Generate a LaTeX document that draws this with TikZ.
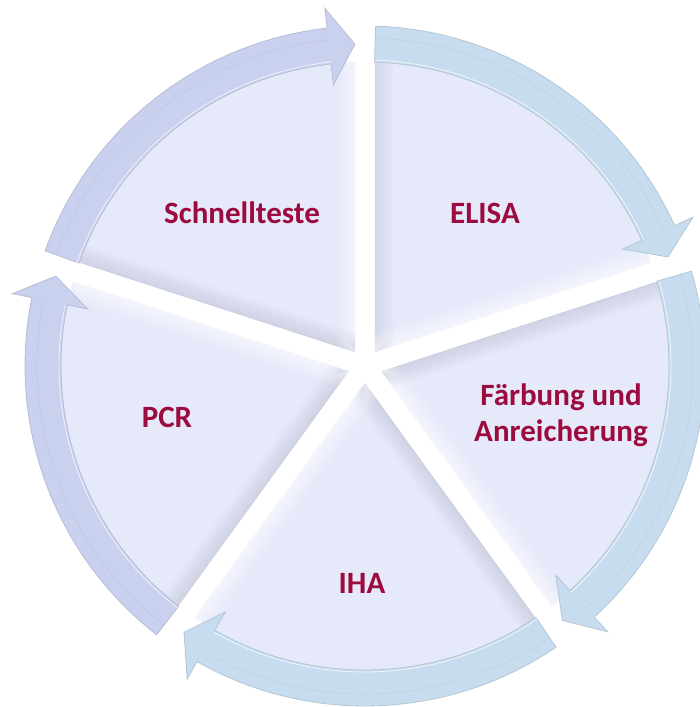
\documentclass[tikz,border=0pt]{standalone}
\usepackage{fontspec}
\setmainfont{Carlito}
\usetikzlibrary{calc}

\definecolor{wedgefill}{HTML}{E6E9FA}
\definecolor{lilacband}{HTML}{CAD1EF}
\definecolor{skyband}{HTML}{C7DDEF}
\definecolor{bevelgray}{HTML}{8E94A8}
\definecolor{labelred}{HTML}{9C0A3E}

\begin{document}
\begin{tikzpicture}[x=1pt, y=1pt,
	band/.style = {fill=#1, draw=#1!75!gray, line width=0.8pt},
	ridge/.style = {draw=#1!80!gray, line width=0.6pt, opacity=0.6},
	bevel/.style = {line width=2.4pt, line cap=butt},
	lbl/.style = {font=\bfseries\fontsize{31}{36}\selectfont, text=labelred, align=center}]
\useasboundingbox (-365,-341) rectangle (335,366);

% segments: start angle / band colour
\foreach \s/\col in {162/lilacband, 90/skyband, 18/skyband, -54/skyband, -126/lilacband}{
	\pgfmathsetmacro\endang{\s-72}
	\pgfmathsetmacro\midang{\s-36}
	% wedge with soft bevel
	\begin{scope}
		\clip (\midang:17) -- (\s-1.88:304) arc[start angle=\s-1.88, end angle=\endang+1.88, radius=304] -- cycle;
		\fill[wedgefill] (-400,-400) rectangle (400,400);
		\foreach \k in {0,...,9}{
			\pgfmathsetmacro\dk{0.22*(1-\k/10)}
			\pgfmathsetmacro\lk{0.5*(1-\k/10)}
			\draw[bevel, bevelgray, opacity=\dk] ([shift={(\s-90:{10+2*\k})}]0,0) -- ++(\s:320);
			\draw[bevel, white, opacity=\lk] ([shift={(\endang+90:{10+2*\k})}]0,0) -- ++(\endang:320);
		}
	\end{scope}
	% arrow on the rim
	\pgfmathsetmacro\tailang{\s-1.8}
	\pgfmathsetmacro\tipang{\endang+1.8}
	\pgfmathsetmacro\headang{\tipang+4.6}
	\draw[band=\col] (\tailang:340) arc[start angle=\tailang, end angle=\headang, radius=340]
		-- (\headang:360) -- (\tipang:322) -- (\headang:283) -- (\headang:304)
		arc[start angle=\headang, end angle=\tailang, radius=304] -- cycle;
	\draw[ridge=\col] (\tailang:328) arc[start angle=\tailang, end angle=\headang, radius=328];
	\draw[white, line width=0.8pt, opacity=0.7] (\tailang:306) arc[start angle=\tailang, end angle=\headang, radius=306];
}

% labels
\node[lbl] (schnell) at (-123,153) {Schnellteste};
\node[lbl] (elisa)   at (120,153)  {ELISA};
\node[lbl] (faerb)   at (196,-49)  {Färbung und\\Anreicherung};
\node[lbl] (pcr)     at (-198,-51) {PCR};
\node[lbl] (iha)     at (-3,-217)  {IHA};
\end{tikzpicture}
\end{document}
